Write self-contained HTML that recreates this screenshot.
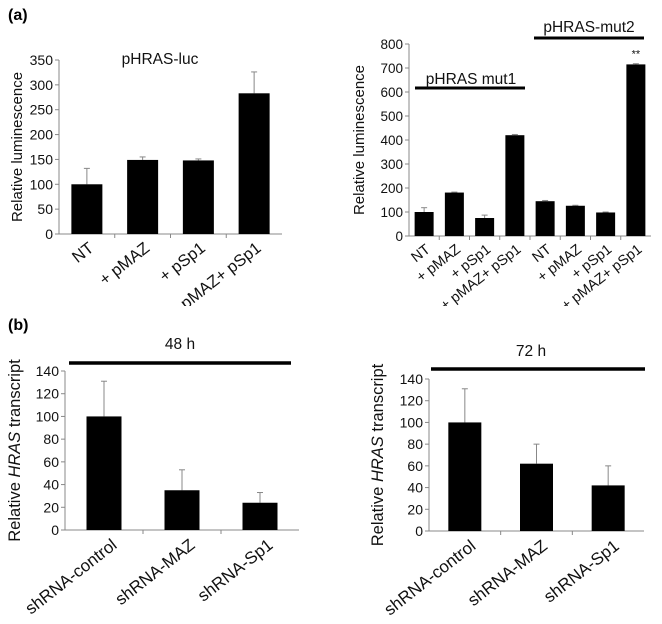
<!DOCTYPE html>
<html><head><meta charset="utf-8"><style>
html,body{margin:0;padding:0;background:#fff}
svg{display:block;font-family:"Liberation Sans",sans-serif}
</style></head><body>
<svg id="fig" width="662" height="624" viewBox="0 0 662 624">
<text x="8" y="20" font-size="16" font-weight="bold">(a)</text>
</svg>
<script>
const c1Cats = ["NT","+ pMAZ","+ pSp1","+ pMAZ+ pSp1"];
const c1Vals = [100,149,148,283];
const c1Errs = [32,6,3,43];
const c1Ticks = [0,50,100,150,200,250,300,350];
const c2Cats = ["NT","+ pMAZ","+ pSp1","+ pMAZ+ pSp1","NT","+ pMAZ","+ pSp1","+ pMAZ+ pSp1"];
const c2Vals = [100,181,75,420,145,126,98,715];
const c2Errs = [18,2,12,3,3,2,2,3];
const c2Ticks = [0,100,200,300,400,500,600,700,800];
const c3Cats = ["shRNA-control","shRNA-MAZ","shRNA-Sp1"];
const c3Vals = [100,35,24];
const c3Errs = [31,18,9];
const c4Vals = [100,62,42];
const c4Errs = [31,18,18];
const c34Ticks = [0,20,40,60,80,100,120,140];

const NS="http://www.w3.org/2000/svg";
const svg=document.getElementById('fig');
function mk(tag,attrs,parent,text){const e=document.createElementNS(NS,tag);for(const k in attrs)e.setAttribute(k,attrs[k]);if(text!==undefined)e.textContent=text;(parent||svg).appendChild(e);return e;}

function chart(o){
  const g=mk('g',{});
  
  
  const y=v=>o.y0-(v-0)/o.ymax*(o.y0-o.ytop);
  const n=o.vals.length, slot=(o.xr-o.xl)/n;
  const cx=i=>o.xl+slot*(i+0.5);
  const ya=mk('line',{x1:o.xl,y1:o.ytop,x2:o.xl,y2:o.y0,stroke:'#888','stroke-width':1},g);
  
  
  const xa=mk('line',{x1:o.xl,y1:o.y0,x2:o.xr,y2:o.y0,stroke:'#888','stroke-width':1},g);
  
  
  o.ticks.forEach(t=>{
    mk('line',{x1:o.xl-4,x2:o.xl,y1:y(t),y2:y(t),stroke:'#888'},g);
    const tl=mk('text',{x:o.xl-6,y:y(t)+5,'text-anchor':'end','font-size':o.tfs,fill:'#111'},g,String(t));
    
    
  });
  for(let i=1;i<n;i++) mk('line',{x1:o.xl+slot*i,x2:o.xl+slot*i,y1:o.y0,y2:o.y0+4,stroke:'#888'},g);
  o.vals.forEach((v,i)=>{
    const e=o.errs[i];
    mk('line',{x1:cx(i),x2:cx(i),y1:y(v),y2:y(v+e),stroke:'#888'},g);
    mk('line',{x1:cx(i)-3,x2:cx(i)+3,y1:y(v+e),y2:y(v+e),stroke:'#888'},g);
    const b=mk('rect',{x:cx(i)-o.bw/2,y:y(v),width:o.bw,height:o.y0-y(v),fill:'#000'},g);
    
    
    const l=mk('text',{x:cx(i)+o.lx,y:o.y0+o.ly,'text-anchor':'end','font-size':o.lfs,fill:'#111',transform:`rotate(-38 ${cx(i)+o.lx} ${o.y0+o.ly})`},g,o.cats[i]);
    
    
  });
  const yt=mk('text',{x:o.ytx,y:(o.ytop+o.y0)/2,'text-anchor':'middle','font-size':o.yfs,fill:'#111',transform:`rotate(-90 ${o.ytx} ${(o.ytop+o.y0)/2})`},g);
  
  
  if(o.italic){mk('tspan',{},yt,'Relative ');mk('tspan',{'font-style':'italic'},yt,'HRAS');mk('tspan',{},yt,' transcript');}
  else yt.textContent=o.ytitle;
  return {g,y,cx};
}

const a=chart({name:'chart-pHRAS-luc',xl:59,xr:282,y0:234,ytop:60,ymax:350,vals:c1Vals,errs:c1Errs,cats:c1Cats,ticks:c1Ticks,bw:31,tfs:14,lfs:16.5,lx:8,ly:16,ytx:22,yfs:15,ytitle:'Relative luminescence'});
const t1=mk('text',{x:160,y:64,'text-anchor':'middle','font-size':15.5,fill:'#111'},a.g,'pHRAS-luc');



const b=chart({name:'chart-pHRAS-mut',xl:409,xr:651,y0:236,ytop:44,ymax:800,vals:c2Vals,errs:c2Errs,cats:c2Cats,ticks:c2Ticks,bw:19,tfs:13.5,lfs:14.5,lx:7,ly:15,ytx:364,yfs:15,ytitle:'Relative luminescence'});
const m1=mk('line',{x1:415,x2:525,y1:88,y2:88,stroke:'#000','stroke-width':3},b.g);


const m1t=mk('text',{x:471,y:84,'text-anchor':'middle','font-size':15.5,fill:'#111'},b.g,'pHRAS mut1');


const m2=mk('line',{x1:534,x2:644,y1:38,y2:38,stroke:'#000','stroke-width':3},b.g);


const m2t=mk('text',{x:589,y:32,'text-anchor':'middle','font-size':15.5,fill:'#111'},b.g,'pHRAS-mut2');


const st=mk('text',{x:b.cx(7),y:b.y(c2Vals[7]+c2Errs[7])-6,'text-anchor':'middle','font-size':11,fill:'#111'},b.g,'**');



const mask=mk('rect',{x:0,y:306,width:662,height:14,fill:'#fff'});


const pb=mk('text',{x:8,y:330,'font-size':16,'font-weight':'bold'},svg,'(b)');



const c=chart({name:'chart-48h',xl:65,xr:299,y0:530,ytop:371,ymax:140,vals:c3Vals,errs:c3Errs,cats:c3Cats,ticks:c34Ticks,bw:35,tfs:14,lfs:17,lx:14,ly:17,ytx:20,yfs:16.5,italic:true});
const l3=mk('line',{x1:69,x2:291,y1:363,y2:363,stroke:'#000','stroke-width':3.5},c.g);


const t3=mk('text',{x:180,y:349,'text-anchor':'middle','font-size':15.5,fill:'#111'},c.g,'48 h');



const d=chart({name:'chart-72h',xl:429,xr:644,y0:531,ytop:379,ymax:140,vals:c4Vals,errs:c4Errs,cats:c3Cats,ticks:c34Ticks,bw:33,tfs:14,lfs:17,lx:12,ly:17,ytx:383,yfs:16.5,italic:true});
const l4=mk('line',{x1:431,x2:645,y1:369,y2:369,stroke:'#000','stroke-width':3.5},d.g);


const t4=mk('text',{x:531,y:356,'text-anchor':'middle','font-size':15.5,fill:'#111'},d.g,'72 h');


</script>
</body></html>
